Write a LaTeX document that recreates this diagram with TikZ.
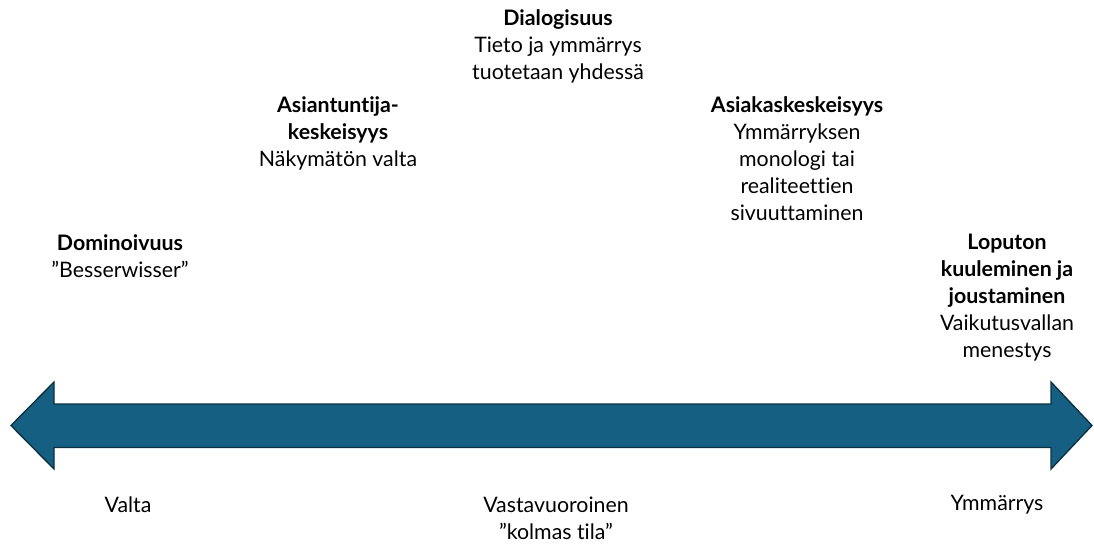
\documentclass[tikz,border=0pt]{standalone}
\usepackage{fontspec}
\setmainfont{Lato}[Ligatures={NoCommon}]
\usepackage{tikz}
\definecolor{arrowfill}{HTML}{156082}
\definecolor{arrowline}{HTML}{0B3041}
\tikzset{
  txt/.style={align=center, inner sep=0pt, font=\fontsize{16}{20.25}\selectfont},
}

\begin{document}
\begin{tikzpicture}[x=0.75pt,y=-0.75pt]
    \useasboundingbox (0,0) rectangle (1094,548);% page as the reference
    % the double arrow along the bottom
    \filldraw[fill=arrowfill, draw=arrowline, line width=1pt, line join=miter]
      (11,425.5) -- (54,382) -- (54,404) -- (1051,404) -- (1051,382)
      -- (1092,425.5) -- (1051,469) -- (1051,447.5) -- (54,447.5) -- (54,469) -- cycle;
    % labels above the arrow
    \node[txt] (domin) at (120,256.5) {\textbf{Dominoivuus}\\”Besserwisser”};
    \node[txt] (asiant) at (338,133) {\textbf{Asiantuntija-}\\\textbf{keskeisyys}\\Näkymätön valta};
    \node[txt] (dialog) at (558,46) {\textbf{Dialogisuus}\\Tieto ja ymmärrys\\tuotetaan yhdessä};
    \node[txt] (asiak) at (797,158.5) {\textbf{Asiakaskeskeisyys}\\Ymmärryksen\\monologi tai\\realiteettien\\sivuuttaminen};
    \node[txt] (loput) at (1007,297.5) {\textbf{Loputon}\\\textbf{kuuleminen ja}\\\textbf{joustaminen}\\Vaikutusvallan\\menestys};
    % labels below the arrow
    \node[txt] (valta) at (128,505) {Valta};
    \node[txt] (vasta) at (556,518.5) {Vastavuoroinen\\”kolmas tila”};
    \node[txt] (ymmar) at (997,505) {Ymmärrys};
\end{tikzpicture}
\end{document}
